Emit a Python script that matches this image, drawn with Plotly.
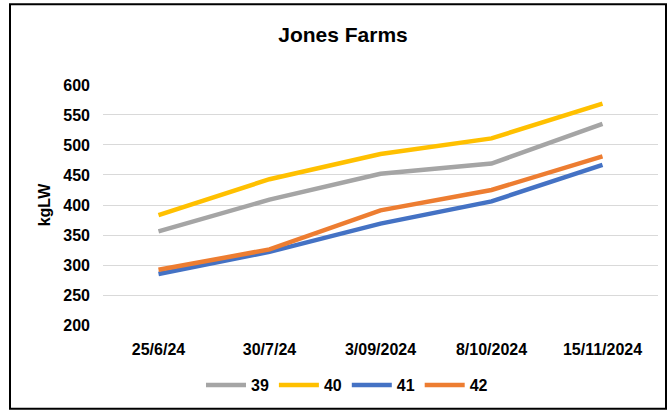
import plotly.graph_objects as go

dates = ["25/6/24", "30/7/24", "3/09/2024", "8/10/2024", "15/11/2024"]
s39 = [356, 409, 452, 469, 535]
s40 = [383, 443, 485, 511, 569]
s41 = [285, 322, 369, 406, 467]
s42 = [292, 326, 391, 425, 481]
series_names = ["39", "40", "41", "42"]
series_values = [s39, s40, s41, s42]
colors = ["#A5A5A5", "#FFC000", "#4472C4", "#ED7D31"]

W, H = 669, 412
L, R, T, B = 103, 11, 84, 85
pw, ph = W - L - R, H - T - B

def px_x(x):
    return (x - L) / pw

def px_y(y):
    return (H - B - y) / ph

fig = go.Figure()
for name, vals, col in zip(series_names, series_values, colors):
    fig.add_trace(go.Scatter(x=dates, y=vals, name=name, mode="lines",
                             line=dict(color=col, width=4.5)))

fnt = dict(family="Liberation Sans", size=16, color="#000000", weight="bold")

fig.update_layout(
    width=W, height=H,
    margin=dict(l=L, r=R, t=T, b=B),
    paper_bgcolor="white", plot_bgcolor="white",
    font=fnt,
    title=dict(text="Jones Farms", x=343 / W, xanchor="center",
               y=1 - 35 / H, yanchor="middle", yref="container",
               font=dict(family="Liberation Sans", size=21, color="#000000", weight="bold")),
    xaxis=dict(type="category", showgrid=False, showline=False, ticks="",
               tickfont=fnt, ticklabelstandoff=12, range=[-0.5, 4.5]),
    yaxis=dict(range=[198.4, 601.6], dtick=50, tick0=200, showgrid=True,
               gridcolor="#D9D9D9", gridwidth=1, zeroline=False, showline=False,
               ticks="", tickfont=fnt, ticklabelstandoff=12,
               title=dict(text="kgLW", font=fnt, standoff=8)),
    legend=dict(orientation="h", x=px_x(347), xanchor="center",
                y=px_y(385), yanchor="middle", font=fnt,
                bgcolor="rgba(0,0,0,0)", itemwidth=40, traceorder="normal"),
    showlegend=True,
    shapes=[dict(type="rect", xref="paper", yref="paper",
                 x0=px_x(10), x1=px_x(666), y0=px_y(410), y1=px_y(4),
                 line=dict(color="#000000", width=2), fillcolor="rgba(0,0,0,0)",
                 layer="above")],
)

fig.write_html("out.html")
